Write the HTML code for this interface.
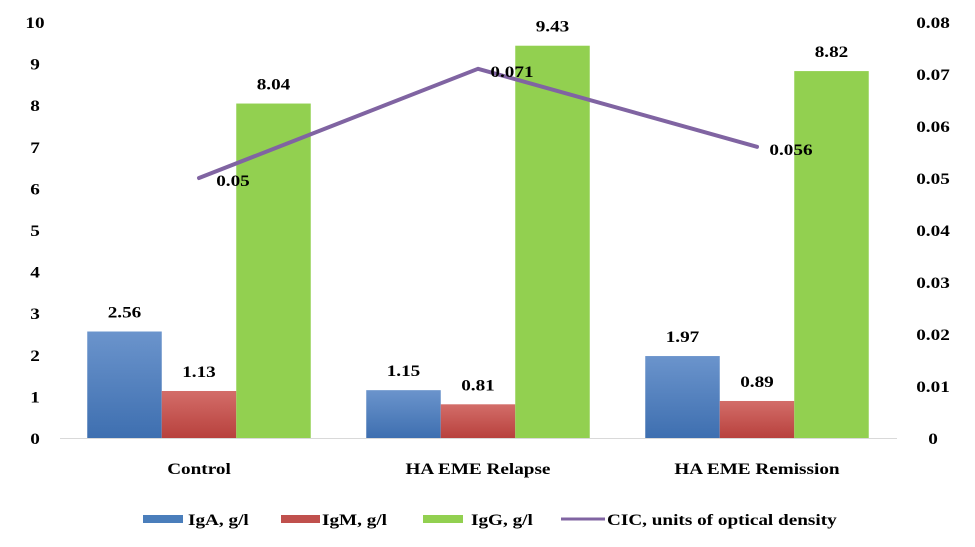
<!DOCTYPE html>
<html><head><meta charset="utf-8"><style>
body{margin:0;background:#fff}
svg text{font-family:"Liberation Serif",serif;font-weight:bold;fill:#000}
</style></head><body>
<svg id="c" width="975" height="542">
<defs>
<linearGradient id="gA" x1="0" y1="0" x2="0" y2="1"><stop offset="0" stop-color="#6b94cc"/><stop offset="1" stop-color="#3e6fb0"/></linearGradient>
<linearGradient id="gM" x1="0" y1="0" x2="0" y2="1"><stop offset="0" stop-color="#d36d69"/><stop offset="1" stop-color="#b8413d"/></linearGradient>
<linearGradient id="gG" x1="0" y1="0" x2="0" y2="1"><stop offset="0" stop-color="#92d050"/><stop offset="1" stop-color="#92d050"/></linearGradient>
</defs>
</svg>
<script>
const categories=["Control","HA EME Relapse","HA EME Remission"];
const igA=[2.56,1.15,1.97];
const igM=[1.13,0.81,0.89];
const igG=[8.04,9.43,8.82];
const cic=[0.05,0.071,0.056];
const cicLabels=["0.05","0.071","0.056"];
const leftTicks=[0,1,2,3,4,5,6,7,8,9,10];
const rightTicks=["0","0.01","0.02","0.03","0.04","0.05","0.06","0.07","0.08"];
const svg=document.getElementById('c');
const NS="http://www.w3.org/2000/svg";
const y0=438,yTop=22;
const yL=v=>y0-(v/10)*(y0-yTop);
const yR=v=>y0-(v/0.08)*(y0-yTop);
const x0=60,catW=279;
const xC=i=>x0+catW*i+catW/2-0.5;
const SX=1.2;
function mk(t,a,txt){const e=document.createElementNS(NS,t);for(const k in a)e.setAttribute(k,a[k]);if(txt!==undefined){e.textContent=txt;const x=a.x;e.setAttribute('transform','translate('+x+',0) scale('+SX+',1) translate('+(-x)+',0)');}svg.appendChild(e);return e;}
leftTicks.forEach(v=>{const e=mk('text',{x:35,y:yL(v)+6,'text-anchor':'middle','font-size':16},String(v));

});
rightTicks.forEach((s,i)=>{const e=mk('text',{x:933,y:yR(i*0.01)+6,'text-anchor':'middle','font-size':16},s);

});
const series=[[igA,'url(#gA)','iga'],[igM,'url(#gM)','igm'],[igG,'url(#gG)','igg']];
const bw=74.5;
categories.forEach((c,i)=>{
 series.forEach((s,j)=>{
  const x=xC(i)-bw*1.5+bw*j, v=s[0][i];
  const r=mk('rect',{x:x,y:yL(v),width:bw,height:y0-yL(v),fill:s[1]});
  
  
  const t=mk('text',{x:x+bw/2,y:yL(v)-14,'text-anchor':'middle','font-size':16},v.toFixed(2));
  
  
 });
 const t=mk('text',{x:xC(i),y:474,'text-anchor':'middle','font-size':16},c);
 
 
});
const ax=mk('line',{x1:x0,y1:y0+0.5,x2:x0+catW*3,y2:y0+0.5,stroke:'#d9d9d9'});


const ln=mk('polyline',{points:cic.map((v,i)=>xC(i)+','+yR(v)).join(' '),fill:'none',stroke:'#8064a2','stroke-width':4,'stroke-linejoin':'round','stroke-linecap':'round'});


cic.forEach((v,i)=>{const t=mk('text',{x:xC(i)+34,y:yR(v)+8,'text-anchor':'middle','font-size':16},cicLabels[i]);

});
const leg=[['#4a7ebb',143,40,188,'IgA, g/l','rect'],['#c0504d',281,39,322,'IgM, g/l','rect'],['#92d050',423,40,471,'IgG, g/l','rect'],['#8064a2',561,44,607,'CIC, units of optical density','line']];
leg.forEach(l=>{
 let s;
 if(l[5]==='rect') s=mk('rect',{x:l[1],y:515,width:l[2],height:8,fill:l[0]});
 else s=mk('line',{x1:l[1],y1:519,x2:l[1]+l[2],y2:519,stroke:l[0],'stroke-width':3});
 
 
 const t=mk('text',{x:l[3],y:525,'font-size':16},l[4]);
 
 
});
</script>
</body></html>
